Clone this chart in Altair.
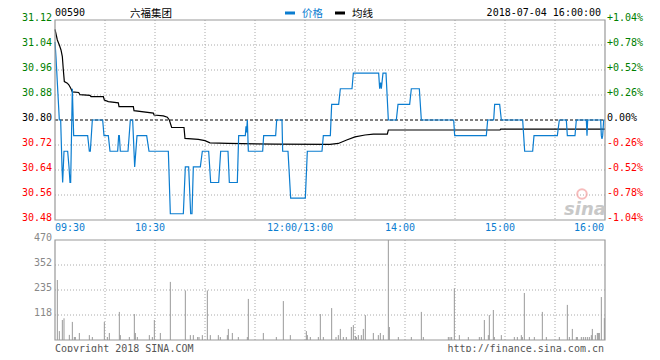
import altair as alt
import pandas as pd

# ---------------- text ----------------
STOCK_CODE = "00590"
STOCK_NAME = "六福集团"
LEGEND_PRICE = "价格"
LEGEND_AVG = "均线"
STAMP = "2018-07-04 16:00:00"
COPYRIGHT = "Copyright 2018 SINA.COM"
URL = "http://finance.sina.com.cn"
WATERMARK = "sina"

PREV_CLOSE = 30.80
price_ticks = [31.12, 31.04, 30.96, 30.88, 30.80, 30.72, 30.64, 30.56, 30.48]
price_labels = ["31.12", "31.04", "30.96", "30.88", "30.80", "30.72", "30.64", "30.56", "30.48"]
pct_labels = ["+1.04%", "+0.78%", "+0.52%", "+0.26%", "0.00%", "-0.26%", "-0.52%", "-0.78%", "-1.04%"]
vol_ticks = [470, 352.5, 235, 117.5]
vol_labels = ["470", "352", "235", "118"]
time_ticks = [0, 60, 150, 210, 270, 330]          # trading minutes after 09:30
time_labels = ["09:30", "10:30", "12:00/13:00", "14:00", "15:00", "16:00"]
grid_minutes = [30, 60, 90, 120, 150, 180, 210, 240, 270, 300]

# ---------------- price (trading minute, price) ----------------
price_t = [0, 0.6, 2.6, 3.4, 4.2, 4.6, 5.4, 7.6, 8.4, 9.0, 9.4, 10.4, 11.2,
           19.6, 20.6, 21.2, 22.4, 28.6, 29.4, 32.0, 33.0, 37.6, 38.2, 38.6, 39.2,
           43.8, 45.2, 46.6, 47.8, 49.2, 55.0, 56.4, 68.0, 69.2, 77.0, 78.2, 80.2,
           81.4, 82.2, 83.0, 87.2, 88.4, 92.2, 93.4, 98.2, 99.4, 103.8, 104.6, 109.4,
           110.2, 114.2, 114.6, 114.9, 115.4, 116.0, 124.6, 125.2, 132.4, 133.0, 136.2,
           136.6, 139.8, 141.4, 150.2, 151.4, 160.2, 161.0, 165.2, 166.0, 170.2, 171.2,
           178.2, 179.0, 194.2, 194.8, 195.4, 195.8, 196.8, 198.6, 200.0, 204.8, 205.8,
           212.8, 213.8, 218.6, 219.8, 239.2, 239.8, 258.8, 259.6, 263.2, 263.8, 266.8,
           267.8, 280.6, 281.2, 281.8, 286.6, 287.4, 301.4, 302.6, 306.8, 307.4, 312.0,
           312.8, 318.8, 319.2, 319.6, 327.4, 327.8, 328.2, 328.6, 329.2, 330.0]
price_v = [31.05, 31.00, 30.80, 30.80, 30.65, 30.60, 30.70, 30.70, 30.65, 30.60, 30.60, 30.90, 30.75,
           30.75, 30.70, 30.70, 30.80, 30.80, 30.75, 30.75, 30.70, 30.70, 30.75, 30.75, 30.70,
           30.70, 30.80, 30.80, 30.65, 30.75, 30.75, 30.70, 30.70, 30.50, 30.50, 30.65, 30.65,
           30.50, 30.50, 30.65, 30.65, 30.70, 30.70, 30.60, 30.60, 30.70, 30.70, 30.60, 30.60,
           30.75, 30.75, 30.78, 30.76, 30.80, 30.70, 30.70, 30.75, 30.75, 30.80, 30.80,
           30.70, 30.70, 30.55, 30.55, 30.70, 30.70, 30.75, 30.75, 30.85, 30.85, 30.90,
           30.90, 30.95, 30.95, 30.90, 30.92, 30.90, 30.95, 30.95, 30.80, 30.80, 30.85,
           30.85, 30.90, 30.90, 30.80, 30.80, 30.75, 30.75, 30.80, 30.80, 30.85, 30.85,
           30.80, 30.80, 30.75, 30.70, 30.70, 30.75, 30.75, 30.80, 30.80, 30.75, 30.75,
           30.80, 30.80, 30.75, 30.80, 30.80, 30.75, 30.74, 30.75, 30.80, 30.80]

# ---------------- average line ----------------
avg_t = [0, 1.4, 2.6, 3.6, 4.4, 5.0, 5.6, 7.4, 8.4, 9.6, 10.4, 14.2, 15.0, 21.0, 21.6,
         29.0, 29.6, 32.0, 38.0, 38.4, 47.0, 47.4, 59.0, 59.4, 65.0, 67.4, 68.6, 70.0,
         77.4, 78.0, 86.0, 90.0, 93.0, 104.0, 132.0, 165.0, 170.0, 175.0, 180.0, 186.0,
         191.0, 199.4, 200.0, 267.0, 267.4, 330.0]
avg_v = [31.09, 31.056, 31.04, 31.024, 31.003, 30.96, 30.923, 30.918, 30.912, 30.90, 30.89,
         30.888, 30.881, 30.879, 30.875, 30.875, 30.864, 30.859, 30.855, 30.843, 30.843,
         30.83, 30.822, 30.816, 30.813, 30.809, 30.80, 30.776, 30.776, 30.741, 30.738,
         30.734, 30.727, 30.725, 30.723, 30.722, 30.725, 30.736, 30.746, 30.752, 30.755,
         30.755, 30.768, 30.768, 30.771, 30.771]

# ---------------- volume ----------------
vol_t = [1.4, 2.6, 4.4, 5.4, 8.6, 10.4, 11.6, 12.2, 14.6, 20.6, 22.4, 29.6, 31.4, 32.6,
         38.6, 39.2, 44.6, 47.6, 48.2, 49.4, 56.6, 58.4, 59.6, 63.2, 69.2, 78.2, 81.2,
         83.0, 85.6, 86.4, 88.4, 91.4, 93.2, 98.0, 99.2, 103.4, 104.0, 106.4, 110.0,
         115.4, 116.0, 125.0, 132.8, 137.0, 141.2, 150.8, 151.4, 153.2, 158.0, 159.2,
         161.0, 166.0, 168.6, 170.0, 171.2, 173.0, 174.8, 177.8, 179.0, 180.2, 180.8,
         182.0, 183.8, 185.0, 186.2, 191.0, 194.0, 195.2, 197.0, 200.0, 200.6, 206.0,
         213.8, 219.8, 221.0, 236.0, 237.0, 238.0, 239.6, 242.6, 248.0, 254.6, 255.8,
         257.6, 260.0, 260.6, 263.0, 263.6, 267.8, 275.6, 277.4, 279.8, 280.4, 281.6,
         284.6, 287.6, 292.4, 294.8, 302.6, 307.4, 308.6, 310.4, 312.8, 313.4, 315.8,
         317.0, 318.2, 319.4, 320.6, 321.8, 322.4, 324.2, 325.4, 326.0, 326.6, 327.8, 329.6]
vol_v = [282, 42, 94, 102, 24, 85, 14, 14, 33, 23, 14, 85, 14, 33,
         132, 23, 14, 122, 33, 14, 23, 14, 94, 33, 273, 233, 23,
         23, 14, 14, 23, 233, 23, 23, 14, 23, 52, 33, 14,
         14, 193, 33, 14, 183, 23, 42, 23, 14, 14, 122,
         14, 150, 14, 23, 52, 14, 14, 61, 70, 19, 14,
         23, 23, 52, 117, 33, 23, 33, 23, 470, 61, 14,
         14, 132, 14, 14, 14, 14, 243, 23, 14, 14, 14,
         94, 23, 117, 141, 14, 23, 14, 14, 23, 14, 221,
         14, 14, 132, 14, 14, 165, 14, 52, 14, 14, 14,
         14, 14, 14, 14, 23, 52, 23, 33, 33, 33, 202, 103]

# ---------------- styling ----------------
W, H = 550, 320
MONO = "DejaVu Sans Mono"
CJK = "Noto Sans CJK SC"
BLUE = "#0b7dd0"
GRID = "#aaaaaa"
BORDER = "#999999"
GREEN, RED = "#008000", "#ff0000"

x_scale = alt.Scale(domain=[0, 330], nice=False, zero=False)
p_scale = alt.Scale(domain=[30.48, 31.12], range=[200, 0], nice=False, zero=False)
v_scale = alt.Scale(domain=[0, 470], range=[320, 220], nice=False, zero=False)


def X(f="m"):
    return alt.X(f"{f}:Q", scale=x_scale, axis=None)


def PY(f="p"):
    return alt.Y(f"{f}:Q", scale=p_scale, axis=None)


def VY(f="v"):
    return alt.Y(f"{f}:Q", scale=v_scale, axis=None)


def note(s, x, y, align="left", size=10, color="#000000", font=MONO, baseline="middle", **kw):
    return alt.Chart(pd.DataFrame({"t": [s]})).mark_text(
        align=align, baseline=baseline, fontSize=size, color=color, font=font, **kw
    ).encode(x=alt.value(x), y=alt.value(y), text="t:N")


def col(v):
    if abs(v - PREV_CLOSE) < 1e-9:
        return "#000000"
    return GREEN if v > PREV_CLOSE else RED


price_df = pd.DataFrame({"m": price_t, "p": price_v})
avg_df = pd.DataFrame({"m": avg_t, "p": avg_v})
vol_df = pd.DataFrame({"m": vol_t, "v": vol_v})
ptick_df = pd.DataFrame({"p": price_ticks, "lab": price_labels, "pct": pct_labels,
                         "c": [col(v) for v in price_ticks]})
hgrid_df = pd.DataFrame({"p": [v for v in price_ticks[1:-1] if abs(v - PREV_CLOSE) > 1e-9]})
vgrid_df = pd.DataFrame({"m": grid_minutes})
vtick_df = pd.DataFrame({"v": vol_ticks, "lab": vol_labels})
vhgrid_df = pd.DataFrame({"v": vol_ticks[1:]})
time_df = pd.DataFrame({"m": time_ticks, "lab": time_labels})

layers = []

# grids
dotted = dict(color=GRID, strokeWidth=1, strokeDash=[1, 2])
layers.append(alt.Chart(vgrid_df).mark_rule(**dotted).encode(x=X(), y=alt.value(0), y2=alt.value(200)))
layers.append(alt.Chart(vgrid_df).mark_rule(**dotted).encode(x=X(), y=alt.value(220), y2=alt.value(320)))
layers.append(alt.Chart(hgrid_df).mark_rule(**dotted).encode(y=PY(), x=alt.value(0), x2=alt.value(W)))
layers.append(alt.Chart(vhgrid_df).mark_rule(**dotted).encode(y=VY(), x=alt.value(0), x2=alt.value(W)))
layers.append(alt.Chart(pd.DataFrame({"p": [PREV_CLOSE]})).mark_rule(
    color="#000000", strokeWidth=1, strokeDash=[3, 2]).encode(y=PY(), x=alt.value(0), x2=alt.value(W)))

# volume bars
layers.append(alt.Chart(vol_df).mark_rule(color="#999999", strokeWidth=1).encode(
    x=X(), y=VY(), y2=alt.value(320)))

# lines
layers.append(alt.Chart(avg_df).mark_line(color="#000000", strokeWidth=1.2).encode(x=X(), y=PY()))
layers.append(alt.Chart(price_df).mark_line(color=BLUE, strokeWidth=1.2).encode(x=X(), y=PY()))

# borders
one = pd.DataFrame({"a": [0]})
layers.append(alt.Chart(one).mark_rect(fillOpacity=0, stroke=BORDER, strokeWidth=1.2).encode(
    x=alt.value(0), x2=alt.value(W), y=alt.value(0), y2=alt.value(200)))
layers.append(alt.Chart(one).mark_rect(fillOpacity=0, stroke=BORDER, strokeWidth=1.2).encode(
    x=alt.value(0), x2=alt.value(W), y=alt.value(220), y2=alt.value(320)))

# left / right price labels
layers.append(alt.Chart(ptick_df).mark_text(align="right", baseline="alphabetic", dy=1,
                                             fontSize=10, font=MONO).encode(
    y=PY(), x=alt.value(-3), text="lab:N", color=alt.Color("c:N", scale=None)))
layers.append(alt.Chart(ptick_df).mark_text(align="left", baseline="alphabetic", dy=1,
                                             fontSize=10, font=MONO).encode(
    y=PY(), x=alt.value(552), text="pct:N", color=alt.Color("c:N", scale=None)))
# volume labels
layers.append(alt.Chart(vtick_df).mark_text(align="right", baseline="alphabetic", dy=1,
                                             fontSize=10, font=MONO, color="#888888").encode(
    y=VY(), x=alt.value(-3), text="lab:N"))

# time labels
for i, (m, lab) in enumerate(zip(time_ticks, time_labels)):
    if i == 0:
        al, dx = "left", 0
    elif i == len(time_ticks) - 1:
        al, dx = "right", -1
    else:
        al, dx = "center", -5
    layers.append(alt.Chart(time_df.iloc[[i]]).mark_text(
        align=al, baseline="middle", dx=dx, fontSize=10, font=MONO, color=BLUE).encode(
        x=X(), y=alt.value(207.5), text="lab:N"))

# header (kept inside the drawing surface, which starts 12px above the plot)
layers.append(note(STOCK_CODE, 0, -4, baseline="alphabetic"))
layers.append(note(STOCK_NAME, 75, -10.8, size=10.5, font=CJK, baseline="top"))
layers.append(alt.Chart(one).mark_rule(color=BLUE, strokeWidth=3).encode(
    x=alt.value(230), x2=alt.value(240), y=alt.value(-7)))
layers.append(note(LEGEND_PRICE, 247, -10.8, size=10.5, font=CJK, color=BLUE, baseline="top"))
layers.append(alt.Chart(one).mark_rule(color="#000000", strokeWidth=3).encode(
    x=alt.value(280), x2=alt.value(290), y=alt.value(-7)))
layers.append(note(LEGEND_AVG, 297, -10.8, size=10.5, font=CJK, baseline="top"))
layers.append(note(STAMP, 546, -4, align="right", baseline="alphabetic"))

# footer
layers.append(note(COPYRIGHT, 0, 329, color="#555555"))
layers.append(note(URL, 549, 329, align="right", color="#555555"))

# watermark
layers.append(alt.Chart(one).mark_point(size=90, filled=False, color="#f4a0a0", strokeWidth=2,
                                         opacity=0.7).encode(x=alt.value(527), y=alt.value(174)))
layers.append(note(WATERMARK, 530, 190, align="center", size=18, color="#c8c8c8",
                   font="DejaVu Sans", fontStyle="italic", fontWeight="bold"))

chart = alt.layer(*layers).resolve_scale(y="independent").properties(
    width=W, height=H,
    autosize=alt.AutoSizeParams(type="none"),
    padding={"left": 47, "top": 12, "right": 47, "bottom": 12},
).configure_view(stroke=None)

chart.save("out.html", embed_options={"renderer": "svg", "actions": False})
